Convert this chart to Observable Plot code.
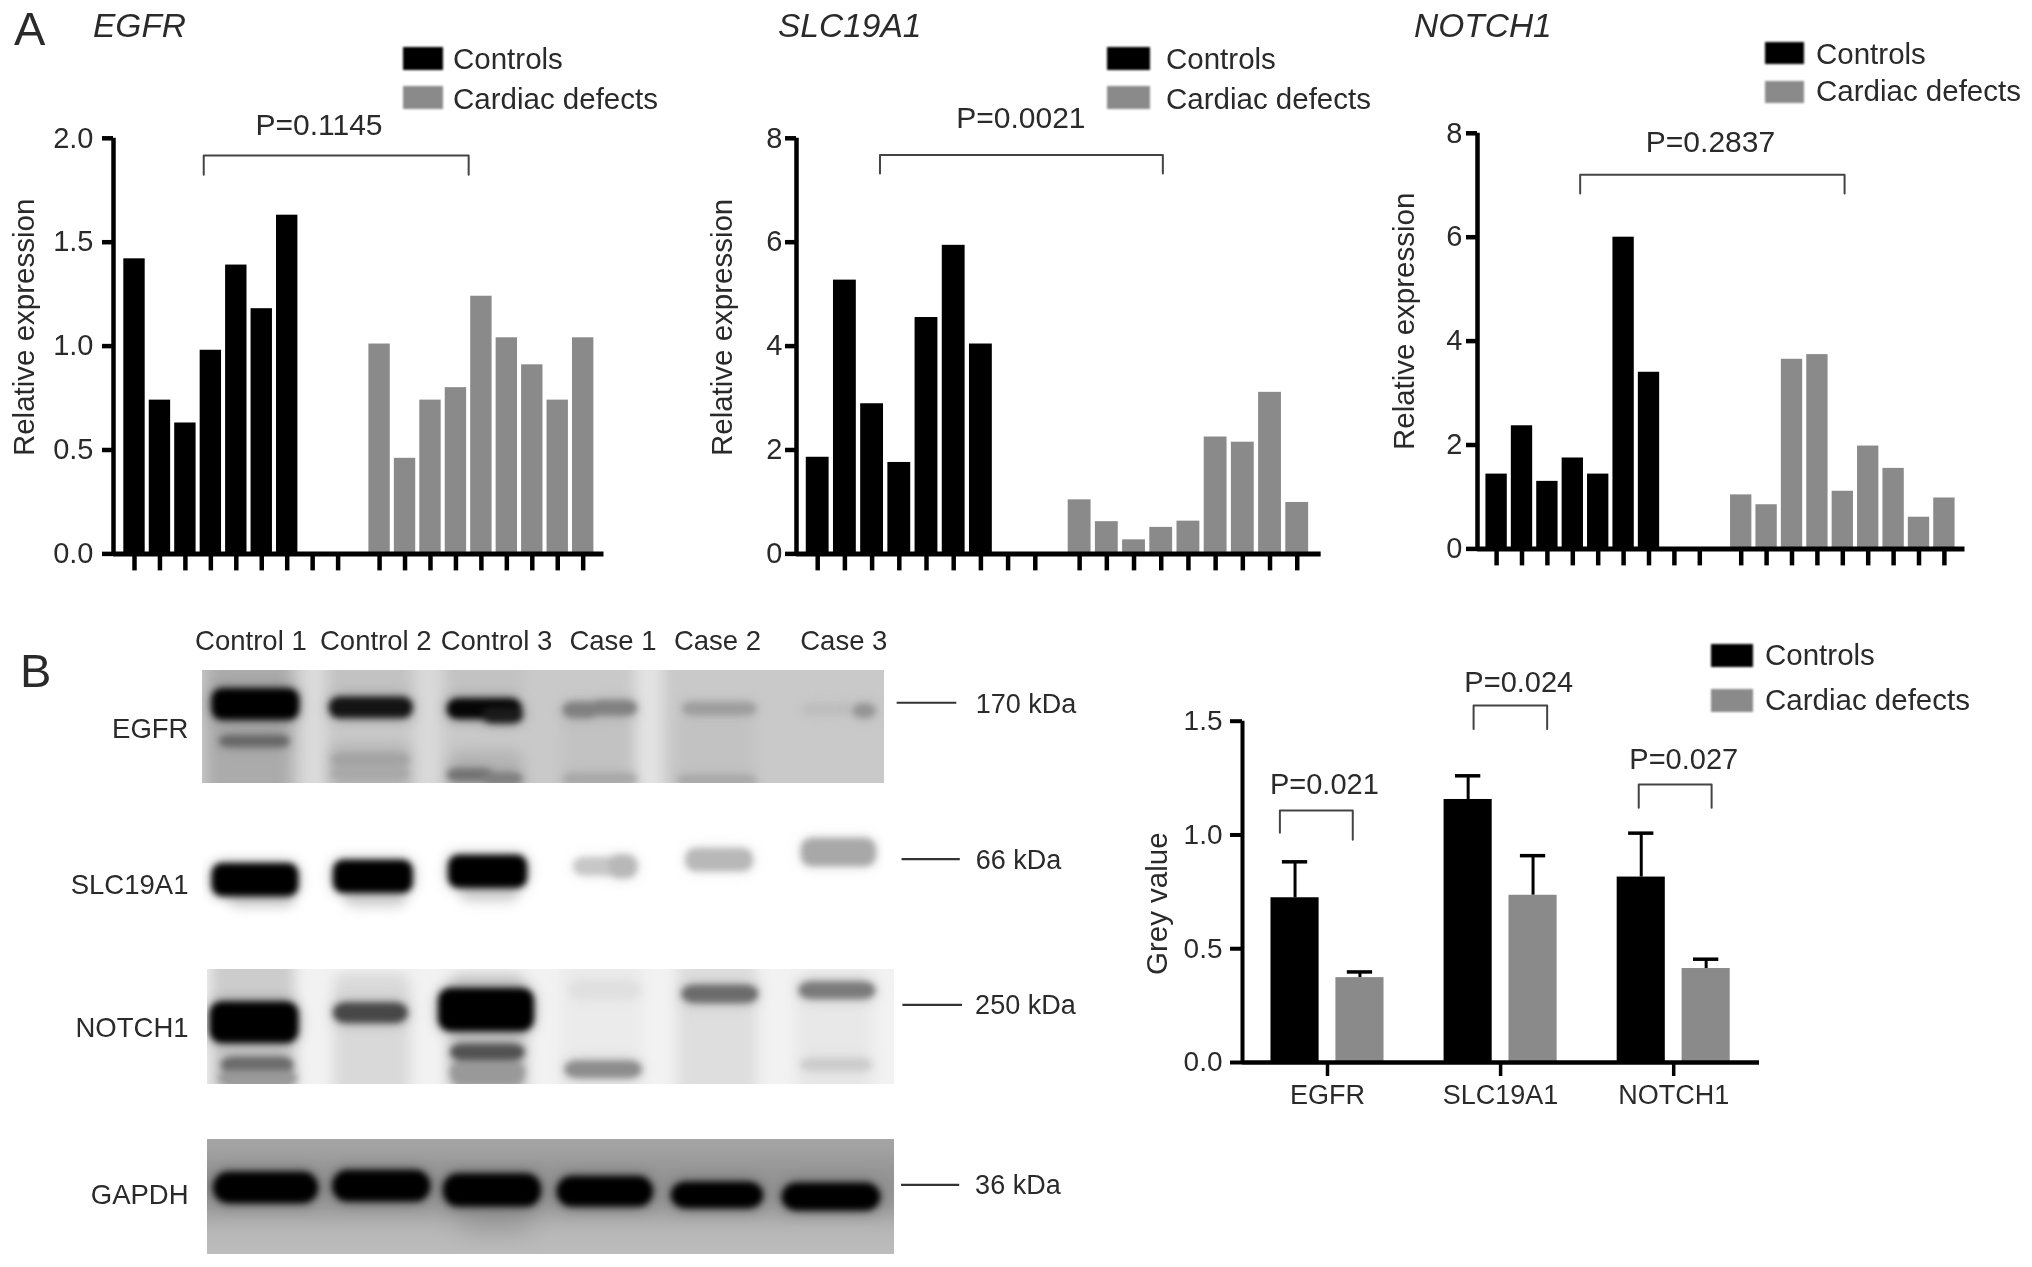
<!DOCTYPE html>
<html>
<head>
<meta charset="utf-8">
<script src="https://cdn.jsdelivr.net/npm/d3@7"></script>
<script src="https://cdn.jsdelivr.net/npm/@observablehq/plot@0.6"></script>
<style>
  html, body { margin: 0; padding: 0; background: #fff; }
  #page { position: relative; width: 2032px; height: 1267px; overflow: hidden; font-family: "Liberation Sans", Arial, sans-serif; color: #2a2a2a; }
  #page > svg { position: absolute; }
  .lbl { position: absolute; white-space: nowrap; transform: translateY(-50%); filter: blur(0.5px); }
  .swatch { position: absolute; filter: blur(0.8px); }
</style>
</head>
<body>
<div id="page"></div>
<script>
// ---------- Panel A values ----------
const egfrControls = [1.42, 0.74, 0.63, 0.98, 1.39, 1.18, 1.63];
const egfrCases = [1.01, 0.46, 0.74, 0.80, 1.24, 1.04, 0.91, 0.74, 1.04];
const slcControls = [1.86, 5.27, 2.89, 1.76, 4.55, 5.94, 4.04];
const slcCases = [1.04, 0.62, 0.27, 0.51, 0.63, 2.25, 2.15, 3.11, 0.99];
const notchControls = [1.44, 2.37, 1.30, 1.75, 1.44, 6.00, 3.40];
const notchCases = [1.04, 0.85, 3.65, 3.74, 1.11, 1.98, 1.55, 0.61, 0.98];
const ticksFine = [0, 0.5, 1, 1.5, 2];
const ticksWide = [0, 2, 4, 6, 8];

// ---------- Panel B grey values ----------
const genes = ["EGFR", "SLC19A1", "NOTCH1"];
const greyControls = [0.724, 1.156, 0.815];
const greyControlsTop = [0.882, 1.26, 1.008];
const greyCases = [0.373, 0.735, 0.413];
const greyCasesTop = [0.398, 0.909, 0.454];
const greyTicks = [0, 0.5, 1, 1.5];
const greyP = ["P=0.021", "P=0.024", "P=0.027"];

// ---------- Western blot lanes and bands: [from, to, top, bottom, density] in gel units ----------
const laneNames = ["Control 1", "Control 2", "Control 3", "Case 1", "Case 2", "Case 3"];
const egfrBackdrop = [[200,1350,100,600,.21],[295,415,100,600,.33],[470,585,400,600,.28],[640,745,420,600,.29],
  [430,465,100,600,.14],[590,630,100,600,.15],[905,945,100,600,.11],[800,905,300,600,.24],[965,1075,320,600,.24],[470,585,100,260,.24],[640,745,100,270,.24]];
const egfrBands = [[305,423,245,320,1],[315,410,385,402,.6],[472,585,270,315,.92],[475,580,440,460,.36],[475,580,482,500,.34],
  [640,740,275,318,.98],[690,742,300,330,.9],[640,700,485,505,.55],[690,742,497,517,.5],[805,850,285,315,.5],[845,905,280,307,.5],
  [805,905,500,516,.34],[975,1075,285,307,.38],[968,1075,505,518,.34],[1145,1215,290,305,.26],[1218,1245,290,315,.42]];
const slcBackdrop = [[325,420,840,895,.15],[490,580,840,895,.15],[655,740,820,880,.15]];
const slcBands = [[305,422,770,850,1],[478,585,760,840,1],[642,748,745,825,1],[820,905,752,788,.22],[870,905,745,795,.28],
  [980,1070,725,775,.28],[1145,1245,695,760,.34]];
const notchBackdrop = [[200,1350,0,500,.05],[300,420,0,500,.2],[475,585,100,500,.15],[640,750,100,500,.2],[800,915,0,500,.08],[965,1080,0,500,.13],[1135,1245,95,500,.09]];
const notchBands = [[302,422,195,300,1],[318,415,360,390,.58],[315,420,400,432,.4],[478,578,198,240,.72],[628,758,155,265,1],
  [645,745,322,352,.68],[645,745,370,430,.4],[815,910,130,170,.12],[808,912,372,405,.45],[975,1078,145,180,.58],
  [1142,1245,135,168,.52],[1145,1240,365,385,.2]];
const gapdhBackdrop = [[200,1350,500,1000,.27],[200,1350,640,830,.42],[650,760,800,870,.42],[200,1350,500,625,.36]];
const gapdhBands = [[307,450,705,780,1],[477,610,700,775,1],[635,768,710,790,1],[797,928,718,790,1],[960,1085,735,795,1],[1118,1252,738,802,1]];

const INK = "#2a2a2a", GREY = "#8a8a8a";
const page = document.getElementById("page");
const place = (el, left, top) => { el.style.left = left + "px"; el.style.top = top + "px"; page.appendChild(el); };

function label(text, x, y, size, italic) {
  const d = document.createElement("div");
  d.className = "lbl"; d.textContent = text;
  d.style.fontSize = size + "px"; if (italic) d.style.fontStyle = "italic";
  place(d, x, y);
}
function swatch(x, y, w, h, colour) {
  const d = document.createElement("div");
  d.className = "swatch"; d.style.width = w + "px"; d.style.height = h + "px"; d.style.background = colour;
  place(d, x, y);
}
function legend(x, y1, y2, w, h, textX, t1, t2) {
  swatch(x, y1, w, h, "#000"); swatch(x, y2, w, h, GREY);
  label("Controls", textX, t1, 29.5); label("Cardiac defects", textX, t2, 29.5);
}
const bracket = (pts) => Plot.line(pts, {x: d => d[0], y: d => d[1], stroke: "#444", strokeWidth: 2});
const svgStyle = {background: "transparent", overflow: "visible", filter: "blur(0.5px)", fontFamily: "'Liberation Sans', Arial, sans-serif"};

// ---------- Panel A chart builder ----------
function expressionPanel(c) {
  const gap = 0.63, half = 0.42;
  const slots = d3.range(18).map(i => i < 9 ? i : i + gap);
  const rows = [
    ...c.controls.map((v, i) => ({pos: slots[i], v, fill: "#000"})),
    ...c.cases.map((v, i) => ({pos: slots[9 + i], v, fill: GREY}))
  ];
  const left = c.axisPx - 112, top = 0, height = 600, width = c.rightPx - left;
  const xmin = (c.axisPx - c.firstPx) / c.stepPx, xmax = (c.rightPx - c.firstPx) / c.stepPx;
  const yMax = c.ticks[c.ticks.length - 1];
  const svg = Plot.plot({
    width, height, marginLeft: c.axisPx - left, marginRight: 0, marginTop: c.topPx, marginBottom: height - c.zeroPx,
    style: svgStyle,
    x: {domain: [xmin, xmax]},
    y: {domain: [0, yMax]},
    marks: [
      Plot.rect(rows, {x1: d => d.pos - half, x2: d => d.pos + half, y1: 0, y2: "v", fill: "fill"}),
      Plot.axisY({ticks: c.ticks, tickFormat: c.fmt, tickSize: 11, tickPadding: c.pad, strokeWidth: 4.5, stroke: "#000", fill: INK, fontSize: 29, label: null}),
      Plot.axisX({ticks: slots, tickFormat: () => "", tickSize: 17, strokeWidth: 4.5, stroke: "#000", label: null}),
      Plot.ruleX([xmin], {y1: 0, y2: yMax, stroke: "#000", strokeWidth: 4.5}),
      Plot.ruleY([0], {stroke: "#000", strokeWidth: 5}),
      bracket([[c.br[0], c.br[3]], [c.br[0], c.br[2]], [c.br[1], c.br[2]], [c.br[1], c.br[3]]]),
      Plot.text([c.p], {x: c.pAt[0], y: c.pAt[1], fontSize: 30, fill: INK}),
      Plot.text(["Relative expression"], {x: c.labelAt[0], y: c.labelAt[1], rotate: -90, fontSize: 29.5, fill: INK})
    ]
  });
  place(svg, left, top);
}

expressionPanel({controls: egfrControls, cases: egfrCases, ticks: ticksFine, fmt: ".1f", axisPx: 112.5, firstPx: 133.5, stepPx: 25.45, rightPx: 603,
  topPx: 137.8, zeroPx: 553.4, pad: 9, br: [2.72, 13.13, 1.917, 1.825], p: "P=0.1145", pAt: [7.25, 2.064], labelAt: [-4.34, 1.09]});
expressionPanel({controls: slcControls, cases: slcCases, ticks: ticksWide, fmt: "d", axisPx: 796.3, firstPx: 817.5, stepPx: 27.2, rightPx: 1321,
  topPx: 137.8, zeroPx: 553.4, pad: 3, br: [2.29, 12.69, 7.68, 7.32], p: "P=0.0021", pAt: [7.47, 8.38], labelAt: [-3.49, 4.36]});
expressionPanel({controls: notchControls, cases: notchCases, ticks: ticksWide, fmt: "d", axisPx: 1476.5, firstPx: 1495.6, stepPx: 25.4, rightPx: 1964,
  topPx: 132.8, zeroPx: 548.4, pad: 4, br: [3.29, 13.7, 7.2, 6.84], p: "P=0.2837", pAt: [8.42, 7.82], labelAt: [-3.61, 4.38]});

label("A", 14, 28, 47);
label("B", 20, 670, 47);
label("EGFR", 93, 26, 33.5, true);
label("SLC19A1", 778, 26, 33.5, true);
label("NOTCH1", 1414, 26, 33.5, true);
legend(403, 47, 86, 40, 23, 453, 59, 99);
legend(1107, 47, 86, 43, 23, 1166, 59, 99);
legend(1765, 42, 81, 39, 22, 1816, 54, 91);

// ---------- Western blots ----------
function blot(c) {
  const width = 1120, pxLeft = c.px[0], pxRight = c.px[1], pxTop = c.px[2], pxBottom = c.px[3];
  const top = pxTop - 60, height = pxBottom - top + 10;
  const band = (rows, blur, pad, opacity) => Plot.rect(rows, {x1: d => d[0] - pad / 3, x2: d => d[1] + pad / 3, y1: d => d[2] - pad, y2: d => d[3] + pad, fill: d => d[4],
    rx: c.round, imageFilter: `blur(${blur}px)`, fillOpacity: opacity, clip: "frame"});
  const units = c.units;
  const marks = [
    band(c.backdrop, c.backBlur, 0, 1),
    band(c.bands, c.bandBlur * 2.2, 10, 0.4),
    band(c.bands, c.bandBlur, 9, 1),
    Plot.text([c.name], {x: 268, y: c.nameY, textAnchor: "end", fontSize: 27.5, fill: INK}),
    Plot.ruleY([c.markY], {x1: c.mark[0], x2: c.mark[1], stroke: "#333", strokeWidth: 2.2}),
    Plot.text([c.kda], {x: 1390, y: c.kdaY, textAnchor: "start", fontSize: 27, fill: INK})
  ];
  if (c.lanes) {
    const at = [357, 535, 707, 873, 1022, 1202];
    marks.push(Plot.text(laneNames, {x: (d, i) => at[i], y: c.lanesY, fontSize: 27.5, fill: INK}));
  }
  const svg = Plot.plot({
    width, height, marginLeft: pxLeft, marginRight: width - pxRight, marginTop: pxTop - top, marginBottom: height - (pxBottom - top),
    style: svgStyle,
    x: {domain: units.slice(0, 2), axis: null},
    y: {domain: [units[3], units[2]], axis: null},
    color: {type: "linear", domain: [0, 1], range: ["#ffffff", "#000000"]},
    marks
  });
  place(svg, 0, top);
}

blot({name: "EGFR", px: [202, 884, 670, 783], units: [288, 1260, 180, 520], backdrop: egfrBackdrop, bands: egfrBands, backBlur: 7, bandBlur: 3, round: 10,
  nameY: 357, markY: 277, mark: [1278, 1363], kda: "170 kDa", kdaY: 282, lanes: true, lanesY: 92});
blot({name: "SLC19A1", px: [202, 884, 823, 923], units: [288, 1260, 640, 940], backdrop: slcBackdrop, bands: slcBands, backBlur: 6, bandBlur: 3.2, round: 10,
  nameY: 825, markY: 747, mark: [1285, 1368], kda: "66 kDa", kdaY: 750});
blot({name: "NOTCH1", px: [207, 894, 969, 1084], units: [295, 1275, 88, 433], backdrop: notchBackdrop, bands: notchBands, backBlur: 7, bandBlur: 3.2, round: 12,
  nameY: 265, markY: 194, mark: [1287, 1372], kda: "250 kDa", kdaY: 197});
blot({name: "GAPDH", px: [207, 894, 1139, 1254], units: [295, 1275, 597, 942], backdrop: gapdhBackdrop, bands: gapdhBands, backBlur: 12, bandBlur: 3.2, round: 15,
  nameY: 765, markY: 733, mark: [1285, 1368], kda: "36 kDa", kdaY: 736});

// ---------- Panel B grey value chart ----------
(function () {
  const left = 1120, top = 620, width = 639, height = 500;
  const step = 173.1, xmin = (1242 - 1327) / step, xmax = (1759 - 1327) / step;
  const off = 0.1875, half = 0.139, cap = 0.073;
  const rows = genes.flatMap((g, i) => [
    {pos: i - off, v: greyControls[i], top: greyControlsTop[i], fill: "#000"},
    {pos: i + off, v: greyCases[i], top: greyCasesTop[i], fill: GREY}
  ]);
  const svg = Plot.plot({
    width, height, marginLeft: 1242 - left, marginRight: 0, marginTop: 720.7 - top, marginBottom: top + height - 1062,
    style: svgStyle,
    x: {domain: [xmin, xmax]},
    y: {domain: [0, 1.5]},
    marks: [
      Plot.ruleX(rows, {x: "pos", y1: "v", y2: "top", stroke: "#000", strokeWidth: 3}),
      Plot.ruleY(rows, {y: "top", x1: d => d.pos - cap, x2: d => d.pos + cap, stroke: "#000", strokeWidth: 3.5}),
      Plot.rect(rows, {x1: d => d.pos - half, x2: d => d.pos + half, y1: 0, y2: "v", fill: "fill"}),
      Plot.axisY({ticks: greyTicks, tickFormat: ".1f", tickSize: 12, tickPadding: 8, strokeWidth: 4, stroke: "#000", fill: INK, fontSize: 28, label: null}),
      Plot.axisX({ticks: [0, 1, 2], tickFormat: i => genes[i], tickSize: 14, tickPadding: 8, strokeWidth: 3.5, stroke: "#000", fill: INK, fontSize: 27, label: null}),
      Plot.ruleX([xmin], {y1: 0, y2: 1.5, stroke: "#000", strokeWidth: 4}),
      Plot.ruleY([0], {stroke: "#000", strokeWidth: 4.5}),
      bracket([[-0.275, 1.01], [-0.275, 1.108], [0.146, 1.108], [0.146, 0.979]]),
      bracket([[0.844, 1.466], [0.844, 1.569], [1.269, 1.569], [1.269, 1.466]]),
      bracket([[1.798, 1.12], [1.798, 1.222], [2.219, 1.222], [2.219, 1.12]]),
      Plot.text(greyP, {x: (d, i) => [-0.018, 1.105, 2.058][i], y: (d, i) => [1.222, 1.671, 1.33][i], fontSize: 29, fill: INK}),
      Plot.text(["Grey value"], {x: -0.982, y: 0.698, rotate: -90, fontSize: 29.5, fill: INK})
    ]
  });
  place(svg, left, top);
})();
legend(1711, 644, 689, 42, 23, 1765, 655, 700);
</script>
</body>
</html>
